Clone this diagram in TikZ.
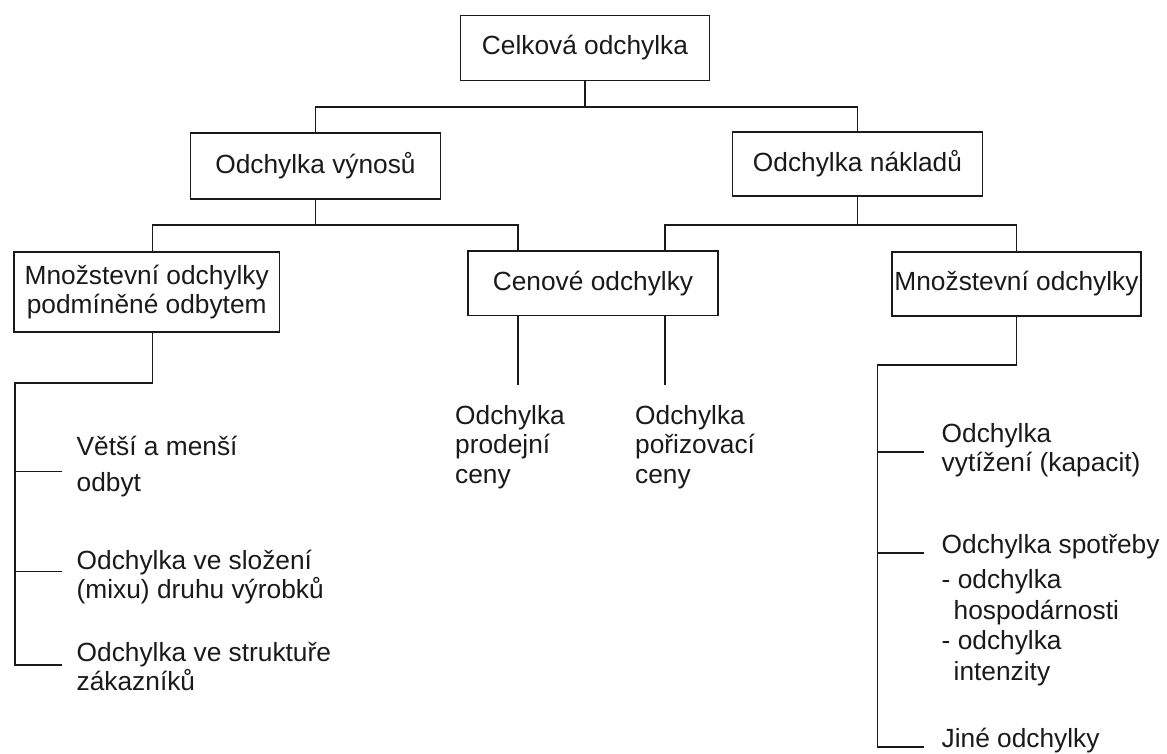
\documentclass[tikz,border=0pt]{standalone}
\usepackage{fontspec}
\setmainfont{Liberation Sans}
\definecolor{ink}{HTML}{1A1A1A}
% several left-aligned lines whose baseline is that of the first line
\newcommand\stackedlines[1]{\vtop{\halign{##\hfil\cr#1\crcr}}}
\begin{document}
\begin{tikzpicture}[x=1pt,y=-1pt,
  line/.style={draw=ink, line width=1.7pt},
  box/.style={draw=ink, line width=1.7pt, inner sep=0pt, align=center, text=ink},
  label/.style={anchor=base west, inner sep=0pt, text=ink},
  font=\fontsize{26.3}{29}\selectfont]
\useasboundingbox (0,0) rectangle (1167,754);
\fill[white] (0,0) rectangle (1167,754);

% boxes
\node[box, minimum width=249pt, minimum height=65pt] (celk) at (585,48) {Celková odchylka};
\node[box, minimum width=250pt, minimum height=66pt] (vyn) at (315.5,166) {Odchylka výnosů};
\node[box, minimum width=250pt, minimum height=64pt] (nak) at (857.5,164) {Odchylka nákladů};
\node[box, minimum width=265.5pt, minimum height=80pt,
      font=\fontsize{26.3}{28.5}\selectfont] (mnozL) at (146.75,292)
      {Množstevní odchylky\\podmíněné odbytem};
\node[box, minimum width=250pt, minimum height=64.5pt] (cen) at (593,283.25) {Cenové odchylky};
\node[box, minimum width=249.5pt, minimum height=64pt] (mnozR) at (1016.5,284) {Množstevní odchylky};

% texts without frames
\node[label] (vetsi) at (76.5,455) {\stackedlines{Větší a menší\cr\noalign{\vskip 7pt}odbyt}};
\node[label] (mix) at (76.5,569) {\stackedlines{Odchylka ve složení\cr (mixu) druhu výrobků}};
\node[label] (zak) at (76.5,661) {\stackedlines{Odchylka ve struktuře\cr zákazníků}};
\node[label, font=\fontsize{26.3}{29.5}\selectfont] (prod) at (455,424)
      {\stackedlines{Odchylka\cr prodejní\cr ceny}};
\node[label, font=\fontsize{26.3}{29.5}\selectfont] (por) at (635,424)
      {\stackedlines{Odchylka\cr pořizovací\cr ceny}};
\node[label] (vyt) at (941.5,442) {\stackedlines{Odchylka\cr vytížení (kapacit)}};
\node[label, font=\fontsize{26.3}{30.5}\selectfont] (spot) at (941.5,553)
      {\stackedlines{Odchylka spotřeby\cr\noalign{\vskip 5pt}- odchylka\cr
       \hspace{12pt}hospodárnosti\cr - odchylka\cr \hspace{12pt}intenzity}};
\node[label] (jine) at (941.5,747) {Jiné odchylky};

% helper coordinates
\coordinate (busA) at (0,107);
\coordinate (busB) at (0,225);
\coordinate (mlx) at (152.5,0);
\coordinate (cenL) at (518,0);
\coordinate (cenR) at (665,0);
\coordinate (prodTop) at (518,385);
\coordinate (porTop) at (665,385);
\coordinate (lTrunk) at (15,383);
\coordinate (lt1) at (62,471.5);
\coordinate (lt2) at (62,571.5);
\coordinate (lt3) at (62,665);
\coordinate (rTrunk) at (877.5,365);
\coordinate (rt1) at (924,452);
\coordinate (rt2) at (924,553);
\coordinate (rt3) at (924,747);

% first level
\draw[line] (celk.south) -- (celk.south |- busA);
\draw[line] (vyn.north) -- (vyn.north |- busA) -- (nak.north |- busA) -- (nak.north);

% second level
\draw[line] (vyn.south) -- (vyn.south |- busB);
\draw[line] (mnozL.north -| mlx) -- (mlx |- busB) -- (cenL |- busB) -- (cen.north -| cenL);
\draw[line] (nak.south) -- (nak.south |- busB);
\draw[line] (cen.north -| cenR) -- (cenR |- busB) -- (mnozR.north |- busB) -- (mnozR.north);

% price deviations
\draw[line] (cen.south -| cenL) -- (prodTop);
\draw[line] (cen.south -| cenR) -- (porTop);

% sales-driven quantity deviations
\draw[line] (mnozL.south -| mlx) -- (mlx |- lTrunk) -- (lTrunk) -- (lTrunk |- lt3) -- (lt3);
\draw[line] (lt1 -| lTrunk) -- (lt1);
\draw[line] (lt2 -| lTrunk) -- (lt2);

% quantity deviations
\draw[line] (mnozR.south) -- (mnozR.south |- rTrunk) -- (rTrunk) -- (rTrunk |- rt3) -- (rt3);
\draw[line] (rt1 -| rTrunk) -- (rt1);
\draw[line] (rt2 -| rTrunk) -- (rt2);
\end{tikzpicture}
\end{document}
